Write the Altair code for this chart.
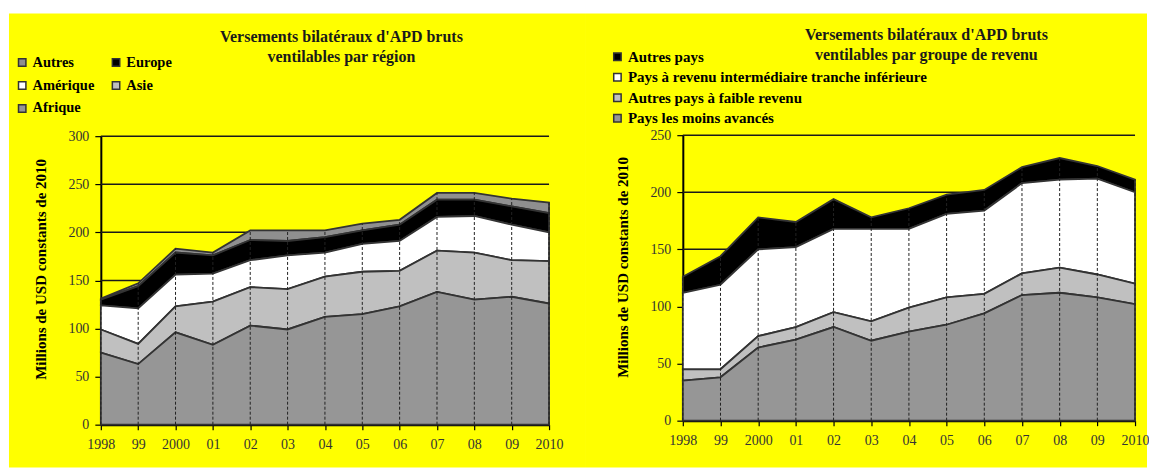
import altair as alt
import pandas as pd

# Years on the horizontal axis and their printed labels
years = list(range(1998, 2011))
year_labels = ["1998", "99", "2000", "01", "02", "03", "04", "05", "06", "07", "08", "09", "2010"]

# Gross bilateral ODA disbursements by region (USD million, constant 2010)
region_names = ["Autres", "Europe", "Amérique", "Asie", "Afrique"]  # top of stack first
afrique = [75, 63, 96, 83, 103, 99, 112, 115, 123, 138, 130, 133, 126]
asie = [24, 21, 27, 45, 40, 42, 42, 44, 37, 43, 49, 38, 44]
amerique = [25, 37, 33, 29, 28, 35, 25, 29, 31, 35, 38, 37, 30]
europe = [6, 23, 23, 19, 21, 15, 16, 14, 17, 18, 17, 19, 20]
autres = [1, 3, 4, 3, 10, 11, 7, 7, 5, 7, 7, 8, 11]
region_colors = ["#8f8f8f", "#000000", "#ffffff", "#c0c0c0", "#969696"]

# Same disbursements by income group
income_names = [
    "Autres pays",
    "Pays à revenu intermédiaire tranche inférieure",
    "Autres pays à faible revenu",
    "Pays les moins avancés",
]
pma = [35, 38, 64, 71, 82, 70, 78, 84, 94, 110, 112, 108, 102]
faible = [10, 7, 10, 11, 13, 17, 21, 24, 17, 19, 22, 20, 18]
priti = [67, 74, 76, 70, 73, 81, 69, 73, 73, 79, 77, 84, 80]
autres_pays = [14, 25, 28, 22, 26, 10, 18, 17, 18, 14, 19, 11, 11]
income_colors = ["#000000", "#ffffff", "#c0c0c0", "#969696"]

left_ticks = [0, 50, 100, 150, 200, 250, 300]
right_ticks = [0, 50, 100, 150, 200, 250]

y_title = "Millions de USD constants de 2010"
left_title = ["Versements bilatéraux d'APD bruts", "ventilables par région"]
right_title = ["Versements bilatéraux d'APD bruts", "ventilables par groupe de revenu"]

SERIF = "Liberation Serif"
PANEL_H = 455


def long_table(names, series):
    rows = []
    n = len(names)
    for k, (name, vals) in enumerate(zip(names, series)):
        for yr, v in zip(years, vals):
            rows.append({"year": yr, "group": name, "value": v, "ord": n - k})
    return pd.DataFrame(rows)


def panel(names, series, colors, ticks, width, xrange, yrange,
          legend_cfg, title_lines, title_x, title_y, ytitle_y, legend_font):
    df = long_table(names, series)
    totals = pd.DataFrame({"year": years,
                           "base": [0] * len(years),
                           "total": [sum(v) for v in zip(*series)]})
    grid = pd.DataFrame({"v": ticks[1:],
                         "x0": [years[0]] * (len(ticks) - 1),
                         "x1": [years[-1]] * (len(ticks) - 1)})

    xs = alt.Scale(domain=[years[0], years[-1]], range=xrange, nice=False, zero=False)
    ys = alt.Scale(domain=[ticks[0], ticks[-1]], range=yrange, nice=False)

    label_expr = "[" + ",".join("'%s'" % s for s in year_labels) + "][datum.value - %d]" % years[0]

    x_axis = alt.Axis(values=years, labelExpr=label_expr, title=None, grid=False,
                      offset=-(PANEL_H - yrange[0]), domainColor="#000", domainWidth=2,
                      tickColor="#000", tickSize=5, tickWidth=1.2, labelPadding=8,
                      labelFont=SERIF, labelFontSize=14, labelColor="#333",
                      labelOverlap=False, labelFlush=False)
    y_axis = alt.Axis(values=ticks, title=y_title, grid=False, offset=-xrange[0],
                      domainColor="#000", domainWidth=2, tickColor="#000", tickSize=6,
                      tickWidth=1.2, labelPadding=6, labelFont=SERIF, labelFontSize=14,
                      labelColor="#333", titleFont=SERIF, titleFontSize=15,
                      titleFontWeight="bold", titleColor="#000", titleAngle=270,
                      titleBaseline="middle", titleX=-60, titleY=ytitle_y)

    gridlines = alt.Chart(grid).mark_rule(color="#1a1a1a", strokeWidth=1.5).encode(
        y=alt.Y("v:Q", scale=ys, axis=y_axis),
        x=alt.X("x0:Q", scale=xs, axis=x_axis),
        x2="x1:Q",
    )

    areas = alt.Chart(df).mark_area(stroke="#333333", strokeWidth=1.8, opacity=1).encode(
        x=alt.X("year:Q", scale=xs, axis=x_axis),
        y=alt.Y("value:Q", stack="zero", scale=ys, axis=y_axis),
        color=alt.Color("group:N", scale=alt.Scale(domain=names, range=colors),
                        legend=alt.Legend(title=None, symbolType="square",
                                          symbolStrokeColor="#333", symbolStrokeWidth=1.5,
                                          symbolSize=55, labelFont=SERIF, labelLimit=0,
                                          labelFontSize=legend_font, labelFontWeight="bold",
                                          labelColor="#000", labelOffset=3,
                                          orient="none", **legend_cfg)),
        order=alt.Order("ord:Q"),
    )

    drops = alt.Chart(totals).mark_rule(color="#222", strokeWidth=1, strokeDash=[3, 2]).encode(
        x=alt.X("year:Q", scale=xs, axis=x_axis),
        y=alt.Y("base:Q", scale=ys, axis=y_axis),
        y2="total:Q",
    )

    title_df = pd.DataFrame({"k": [0]})
    title = alt.Chart(title_df).mark_text(
        text=title_lines, font=SERIF, fontSize=16, fontWeight="bold", color="#1a1a1a",
        align="center", baseline="middle", lineHeight=20,
    ).encode(x=alt.value(title_x), y=alt.value(title_y))

    return alt.layer(gridlines, areas, drops, title).properties(width=width, height=PANEL_H)


left = panel(region_names, [autres, europe, amerique, asie, afrique], region_colors,
             left_ticks, 578, [92, 541], [412, 123],
             dict(legendX=6, legendY=42, columns=2, direction="horizontal",
                  columnPadding=14, rowPadding=8),
             left_title, 333, 24, 256, 14.5)

right = panel(income_names, [autres_pays, priti, faible, pma], income_colors,
              right_ticks, 562, [97, 550], [408, 122],
              dict(legendX=24, legendY=36, columns=1, direction="vertical", rowPadding=4.5),
              right_title, 341, 22, 254, 15)

chart = alt.hconcat(left, right, spacing=0).resolve_scale(
    color="independent"
).properties(
    padding={"left": 9, "top": 13, "right": 0, "bottom": 0},
    background="#ffffff",
).configure_view(fill="#ffff00", strokeWidth=0)

chart.save("out.html", embed_options={"renderer": "svg", "actions": False})
